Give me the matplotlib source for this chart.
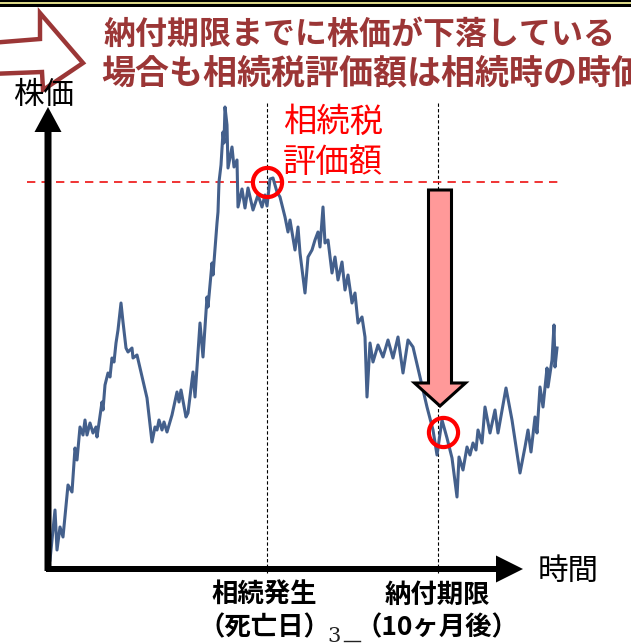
import numpy as np
import matplotlib.pyplot as plt
from matplotlib.patches import Polygon, FancyArrow

plt.rcParams['font.family'] = ['Noto Sans CJK JP', 'DejaVu Sans']

# --- price path (time step, price level) ---
t = [2, 7, 9, 12, 15, 20, 24, 27, 29, 32, 35, 37, 39, 42, 45, 48, 49, 54, 55, 57,
     60, 62, 64, 66, 68, 70, 73, 75, 78, 80, 84, 85, 89, 92, 97, 99, 104, 107, 109, 111,
     114, 116, 119, 124, 129, 131, 133, 138, 140, 145, 147, 152, 155, 159, 160, 164, 165, 169, 170, 171,
     173, 175, 176, 177, 179, 180, 184, 186, 189, 190, 194, 197, 200, 205, 210, 214, 217, 219, 222, 225,
     229, 232, 237, 240, 242, 247, 250, 252, 257, 260, 264, 267, 270, 272, 275, 277, 280, 284, 287, 290,
     294, 297, 300, 304, 307, 310, 314, 317, 319, 322, 325, 330, 335, 340, 345, 350, 355, 360, 365, 372,
     379, 385, 389, 394, 399, 404, 409, 411, 415, 419, 422, 425, 428, 430, 434, 437, 442, 447, 450, 458,
     464, 472, 477, 480, 483, 487, 489, 492, 495, 499, 500, 504, 506, 507, 509]
price = [9, 59, 19, 42, 32, 84, 77, 121, 109, 142, 134, 149, 134, 146, 136, 142, 132, 167, 159, 184,
         196, 192, 211, 207, 226, 239, 266, 247, 221, 217, 221, 211, 214, 201, 179, 171, 127, 142, 139, 149,
         139, 147, 137, 154, 177, 167, 179, 152, 156, 197, 172, 246, 212, 272, 262, 306, 294, 346, 357, 387,
         404, 437, 426, 462, 444, 401, 422, 402, 409, 362, 380, 361, 381, 359, 374, 362, 374, 363, 390, 391,
         377, 372, 352, 337, 349, 319, 342, 316, 276, 312, 319, 329, 337, 322, 362, 326, 329, 296, 312, 289,
         307, 279, 294, 266, 276, 246, 252, 232, 172, 226, 207, 224, 212, 229, 211, 232, 196, 229, 222, 192,
         162, 139, 114, 149, 131, 111, 72, 112, 99, 122, 114, 126, 119, 139, 126, 162, 136, 159, 136, 181,
         149, 96, 122, 139, 117, 152, 136, 182, 162, 201, 182, 209, 244, 202, 221]

death_t = 219          # 相続発生（死亡日）
deadline_t = 390       # 納付期限（10ヶ月後）
valuation = 387        # 相続税評価額 = price on the date of death
deadline_price = 137   # price around the payment deadline

W, H = 631, 644
fig = plt.figure(figsize=(W / 100, H / 100), dpi=100)

# slide decorations in pixel coordinates
deco = fig.add_axes([0, 0, 1, 1], zorder=0)
deco.set_xlim(0, W)
deco.set_ylim(H, 0)
deco.axis('off')

deco.axhspan(0, 1.5, color='black', lw=0)
deco.axhspan(1.5, 3.5, color='#dcd888', lw=0)
deco.axhspan(3.5, 6.5, color='black', lw=0)

dark_red = '#9b3636'
deco.add_patch(Polygon([(-10, 43), (40, 39), (40, 13), (83, 63), (43, 90), (42, 72), (-10, 74)],
                       closed=True, fc='white', ec=dark_red, lw=3.2, joinstyle='miter'))
deco.text(103, 35, '納付期限までに株価が下落している', ha='left', va='center',
          fontsize=23, fontweight='bold', color=dark_red)
deco.text(101, 73, '場合も相続税評価額は相続時の時価', ha='left', va='center',
          fontsize=24.5, fontweight='bold', color=dark_red)

deco.text(334, 636, '3', ha='center', va='center', fontsize=15, family='DejaVu Serif', color='#222222')
deco.plot([344, 360], [641, 641], color='#222222', lw=1)

# chart: 1 data unit per pixel, origin at the axis corner
ax = fig.add_axes([0, 0, 1, 1], zorder=1)
ax.set_xlim(-48, W - 48)
ax.set_ylim(569 - H, 569)
ax.axis('off')
ax.patch.set_visible(False)

ax.plot(t, price, color='#44608c', lw=2.2, solid_joinstyle='round', zorder=3)

# axis arrows
ax.add_patch(FancyArrow(0, -2, 0, 464, width=7, head_width=27, head_length=25,
                        length_includes_head=True, color='black', lw=0, zorder=4))
ax.add_patch(FancyArrow(-2, 0, 477, 0, width=6, head_width=27, head_length=27,
                        length_includes_head=True, color='black', lw=0, zorder=4))
ax.text(-4, 473, '株価', ha='center', va='center', fontsize=22, color='black')
ax.text(520, -2, '時間', ha='center', va='center', fontsize=22, color='black')

# event markers
for x in (death_t, deadline_t):
    ax.plot([x, x], [-4, 466], color='black', lw=0.8, ls=(0, (3, 2)), zorder=2)

ax.plot([-21, 514], [valuation, valuation], color='#ee1111', lw=1.2, ls=(0, (5, 3.7)), zorder=2)
ax.plot(death_t, valuation, 'o', ms=21, mfc='none', mec='#ff0000', mew=3, zorder=5)
ax.plot(deadline_t + 5, deadline_price, 'o', ms=21, mfc='none', mec='#ff0000', mew=3, zorder=5)

ax.add_patch(FancyArrow(deadline_t + 2, valuation - 8, 0, -(valuation - 8 - (deadline_price + 26)),
                        width=23, head_width=51, head_length=23, length_includes_head=True,
                        fc='#ff9999', ec='black', lw=2.2, joinstyle='miter', zorder=4))

ax.text(235, 447, '相続税', ha='left', va='center', fontsize=24, color='#ff0000')
ax.text(235, 407, '評価額', ha='left', va='center', fontsize=24, color='#ff0000')

ax.text(death_t - 3, -26, '相続発生', ha='center', va='center', fontsize=19, fontweight='bold')
ax.text(death_t - 3, -59, '（死亡日）', ha='center', va='center', fontsize=19, fontweight='bold')
ax.text(deadline_t - 1, -26, '納付期限', ha='center', va='center', fontsize=19, fontweight='bold')
ax.text(deadline_t - 1, -59, '（10ヶ月後）', ha='center', va='center', fontsize=19, fontweight='bold')

fig.savefig('out.png', dpi=100)
